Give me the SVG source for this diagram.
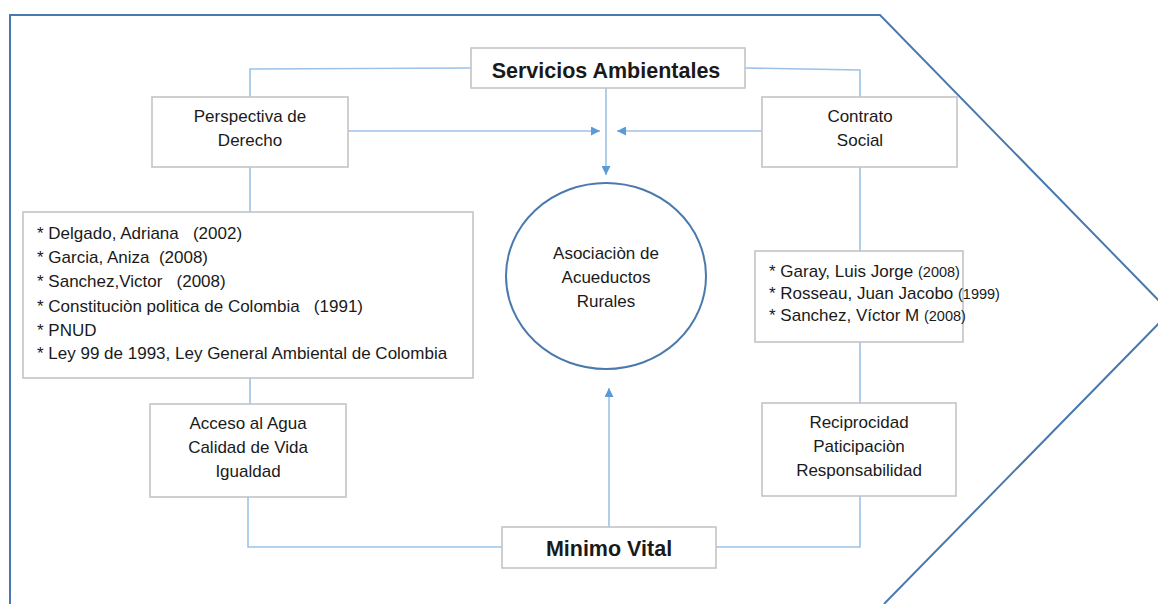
<svg xmlns="http://www.w3.org/2000/svg" width="1158" height="604" viewBox="0 0 1158 604">
<style>
.box{fill:#fff;stroke:#c4c4c4;stroke-width:1.6}
.t{font-family:"Liberation Sans",Arial,sans-serif;font-size:17px;fill:#1a1a1a;white-space:pre}
.c{text-anchor:middle}
.b{font-weight:bold;font-size:21.5px}
.y{font-size:14.5px}
.conn{fill:none;stroke:#9cc2e8;stroke-width:1.6}
.frame{fill:none;stroke:#4a79ad;stroke-width:2}
</style>
<defs>
<marker id="ah" viewBox="0 0 10 10" refX="10" refY="5" markerWidth="9" markerHeight="9" markerUnits="userSpaceOnUse" orient="auto">
<path d="M0,0 L10,5 L0,10 z" fill="#5b9bd5"/>
</marker>
</defs>
<rect width="1158" height="604" fill="#fff"/>
<path class="frame" d="M10,604 L10,15 L880,15 L1170,312 L884,604"/>
<g id="connectors">
<path class="conn" d="M471,68 L250,69 L250,97"/>
<path class="conn" d="M745,68 L860,70 L860,97"/>
<path class="conn" d="M606,88 L606,175" marker-end="url(#ah)"/>
<path class="conn" d="M348,131 L600,131" marker-end="url(#ah)"/>
<path class="conn" d="M762,131 L617,131" marker-end="url(#ah)"/>
<path class="conn" d="M250,167 L250,212"/>
<path class="conn" d="M250,378 L250,404"/>
<path class="conn" d="M248,497 L248,547 L502,547"/>
<path class="conn" d="M860,167 L860,251"/>
<path class="conn" d="M860,342 L860,403"/>
<path class="conn" d="M860,496 L860,547 L716,547"/>
<path class="conn" d="M609,527 L609,388" marker-end="url(#ah)"/>
</g>
<g id="servicios">
<rect class="box" x="471" y="48" width="274" height="40"/>
<text class="t c b" x="606" y="78">Servicios Ambientales</text>
</g>
<g id="perspectiva">
<rect class="box" x="152" y="97" width="196" height="70"/>
<text class="t c" x="250" y="122">Perspectiva de</text>
<text class="t c" x="250" y="146">Derecho</text>
</g>
<g id="contrato">
<rect class="box" x="762" y="97" width="195" height="70"/>
<text class="t c" x="860" y="122">Contrato</text>
<text class="t c" x="860" y="146">Social</text>
</g>
<g id="refs-left">
<rect class="box" x="23" y="212" width="450" height="166"/>
<text class="t" x="37" y="239" xml:space="preserve">* Delgado, Adriana   (2002)</text>
<text class="t" x="37" y="263" xml:space="preserve">* Garcia, Aniza  (2008)</text>
<text class="t" x="37" y="287" xml:space="preserve">* Sanchez,Victor   (2008)</text>
<text class="t" x="37" y="312" xml:space="preserve">* Constituciòn politica de Colombia   (1991)</text>
<text class="t" x="37" y="336">* PNUD</text>
<text class="t" x="37" y="359">* Ley 99 de 1993, Ley General Ambiental de Colombia</text>
</g>
<g id="asociacion">
<ellipse cx="606" cy="276" rx="100" ry="93" fill="#fff" stroke="#4a79ad" stroke-width="2"/>
<text class="t c" x="606" y="259">Asociaciòn de</text>
<text class="t c" x="606" y="283">Acueductos</text>
<text class="t c" x="606" y="307">Rurales</text>
</g>
<g id="refs-right">
<rect class="box" x="755" y="251" width="208" height="91"/>
<text class="t" x="769" y="277">* Garay, Luis Jorge <tspan class="y">(2008)</tspan></text>
<text class="t" x="769" y="299">* Rosseau, Juan Jacobo <tspan class="y">(1999)</tspan></text>
<text class="t" x="769" y="321">* Sanchez, Víctor M <tspan class="y">(2008)</tspan></text>
</g>
<g id="acceso">
<rect class="box" x="150" y="404" width="196" height="93"/>
<text class="t c" x="248" y="429">Acceso al Agua</text>
<text class="t c" x="248" y="453">Calidad de Vida</text>
<text class="t c" x="248" y="477">Igualdad</text>
</g>
<g id="reciprocidad">
<rect class="box" x="762" y="403" width="194" height="93"/>
<text class="t c" x="859" y="428">Reciprocidad</text>
<text class="t c" x="859" y="452">Paticipaciòn</text>
<text class="t c" x="859" y="476">Responsabilidad</text>
</g>
<g id="minimo">
<rect class="box" x="502" y="527" width="214" height="41"/>
<text class="t c b" x="609" y="556">Minimo Vital</text>
</g>
</svg>
